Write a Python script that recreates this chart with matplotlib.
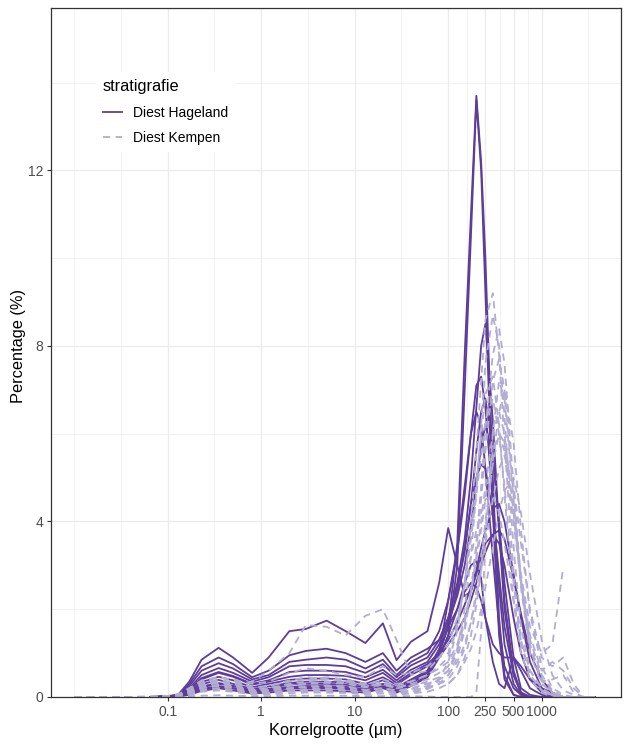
import numpy as np
import matplotlib
matplotlib.use("Agg")
import matplotlib.pyplot as plt
from matplotlib.lines import Line2D
from matplotlib.ticker import FixedLocator, NullFormatter

plt.rcParams['font.family'] = ['Liberation Sans', 'DejaVu Sans']
nan = np.nan

# grain size classes (um)
korrel = [0.01, 0.02, 0.04, 0.065, 0.1, 0.13, 0.17, 0.23, 0.35, 0.5, 0.8, 1.2, 2.0, 3.0, 5.0,
          8.0, 13, 20, 28, 40, 60, 80, 100, 125, 150, 175, 200, 225, 250, 300, 350, 400, 500,
          600, 750, 1000, 1300, 1700, 2200, 2800, 3700]

# Diest Hageland samples (%)
h01 = [nan, nan, nan, 0, 0.02, 0.06, 0.35, 0.85, 1.12, 0.9, 0.55, 0.9, 1.5, 1.55, 1.74, 1.5, 1.23, 1.68, 0.84, 1.26, 1.5, 2.6,
       3.85, 3.0, 2.3, 2.4, 2.8, 3.2, 3.5, 3.7, 3.5, 3.0, 1.8, 1.0, 0.4, 0.1, 0, 0, 0, 0, 0]
h02 = [nan, nan, nan, 0, 0.01, 0.03, 0.1, 0.22, 0.3, 0.25, 0.15, 0.18, 0.3, 0.3, 0.3, 0.28, 0.22, 0.3, 0.2, 0.3, 0.55, 1.0,
       1.6, 3.5, 7.8, 11.0, 13.7, 12.2, 10.0, 5.0, 1.8, 0.5, 0.05, 0, 0, 0, 0, 0, 0, 0, 0]
h03 = [nan, nan, nan, 0, 0.01, 0.02, 0.07, 0.17, 0.23, 0.2, 0.12, 0.14, 0.23, 0.22, 0.22, 0.2, 0.15, 0.22, 0.15, 0.25, 0.45, 0.9,
       1.4, 3.0, 7.0, 10.5, 13.6, 12.0, 9.2, 4.2, 1.4, 0.4, 0.05, 0, 0, 0, 0, 0, 0, 0, 0]
h04 = [nan, nan, nan, 0, 0.01, 0.04, 0.3, 0.7, 0.9, 0.75, 0.45, 0.6, 0.95, 1.05, 1.1, 1.0, 0.8, 1.0, 0.6, 0.9, 1.1, 1.3,
       1.8, 2.6, 3.6, 5.0, 6.6, 8.0, 8.5, 6.3, 3.8, 2.0, 0.5, 0.1, 0, 0, 0, 0, 0, 0, 0]
h05 = [nan, nan, nan, 0, 0.01, 0.04, 0.25, 0.6, 0.77, 0.65, 0.4, 0.5, 0.8, 0.85, 0.9, 0.85, 0.65, 0.85, 0.5, 0.8, 1.0, 1.5,
       2.2, 3.3, 4.6, 6.0, 7.1, 7.3, 6.6, 4.4, 2.5, 1.2, 0.3, 0.05, 0, 0, 0, 0, 0, 0, 0]
h06 = [nan, nan, nan, 0, 0.01, 0.03, 0.2, 0.5, 0.66, 0.55, 0.35, 0.45, 0.7, 0.73, 0.73, 0.7, 0.55, 0.75, 0.45, 0.72, 0.9, 1.3,
       1.8, 2.5, 3.3, 4.4, 5.6, 6.5, 6.8, 5.6, 3.8, 2.2, 0.6, 0.1, 0, 0, 0, 0, 0, 0, 0]
h07 = [nan, nan, nan, 0, 0.01, 0.03, 0.17, 0.43, 0.57, 0.48, 0.3, 0.38, 0.57, 0.6, 0.6, 0.57, 0.45, 0.62, 0.38, 0.62, 0.8, 1.2,
       1.7, 2.3, 3.0, 3.9, 4.9, 5.7, 6.2, 5.5, 4.0, 2.6, 0.9, 0.2, 0.05, 0, 0, 0, 0, 0, 0]
h08 = [nan, nan, nan, 0, 0.01, 0.03, 0.16, 0.4, 0.55, 0.46, 0.28, 0.35, 0.46, 0.5, 0.5, 0.48, 0.38, 0.55, 0.32, 0.55, 0.75, 1.0,
       1.3, 1.7, 2.1, 2.5, 2.9, 3.4, 3.8, 4.3, 4.4, 4.0, 2.8, 1.8, 0.8, 0.2, 0.05, 0, 0, 0, 0]
h09 = [nan, nan, nan, 0, 0.01, 0.02, 0.13, 0.34, 0.46, 0.38, 0.22, 0.3, 0.39, 0.42, 0.42, 0.4, 0.3, 0.45, 0.28, 0.5, 0.7, 0.9,
       1.2, 1.5, 1.8, 2.2, 2.6, 3.0, 3.3, 3.7, 3.8, 3.6, 2.7, 1.9, 1.0, 0.4, 0.1, 0, 0, 0, 0]
h10 = [nan, nan, nan, 0, 0.01, 0.02, 0.11, 0.29, 0.39, 0.3, 0.18, 0.24, 0.32, 0.35, 0.35, 0.33, 0.25, 0.38, 0.22, 0.4, 0.6, 0.9,
       1.4, 2.0, 2.6, 3.0, 3.1, 2.7, 1.8, 0.8, 0.3, 0.2, 0.9, 0.6, 0.2, 0.05, 0, 0, 0, 0, 0]
h11 = [nan, nan, nan, 0, 0.01, 0.02, 0.09, 0.24, 0.32, 0.25, 0.14, 0.18, 0.23, 0.25, 0.25, 0.23, 0.18, 0.3, 0.18, 0.35, 0.6, 1.0,
       1.6, 2.4, 3.4, 4.4, 5.0, 5.3, 5.2, 4.2, 2.8, 1.6, 0.5, 0.1, 0, 0, 0, 0, 0, 0, 0]
h12 = [nan, nan, nan, 0, 0, 0.02, 0.07, 0.18, 0.25, 0.2, 0.1, 0.14, 0.2, 0.2, 0.2, 0.18, 0.14, 0.25, 0.14, 0.3, 0.6, 1.1,
       1.6, 2.0, 2.4, 2.6, 2.5, 2.2, 1.8, 1.2, 1.0, 0.9, 0.9, 0.7, 0.4, 0.2, 0.1, 0, 0, 0, 0]
h13 = [nan, nan, nan, 0, 0, 0.01, 0.05, 0.14, 0.2, 0.15, 0.08, 0.1, 0.15, 0.15, 0.15, 0.13, 0.1, 0.2, 0.1, 0.25, 0.5, 1.0,
       2.2, 3.4, 4.8, 6.0, 6.5, 6.2, 5.2, 3.2, 1.6, 0.7, 0.2, 0.05, 0, 0, 0, 0, 0, 0, 0]

# Diest Kempen samples (%)
k01 = [0, 0, 0, 0, 0.01, 0.03, 0.1, 0.2, 0.25, 0.2, 0.1, 0.1, 0.15, 0.18, 0.2, 0.18, 0.12, 0.15, 0.1, 0.12, 0.2, 0.4,
       0.8, 1.5, 2.6, 4.0, 5.6, 7.2, 8.6, 9.2, 7.8, 5.8, 2.8, 1.3, 0.5, 0.15, 0.05, 0, 0, 0, 0]
k02 = [0, 0, 0, 0, 0.01, 0.04, 0.12, 0.25, 0.32, 0.26, 0.14, 0.15, 0.2, 0.24, 0.26, 0.24, 0.16, 0.2, 0.14, 0.18, 0.25, 0.4,
       0.6, 1.1, 2.0, 3.2, 4.7, 6.2, 7.6, 8.7, 8.0, 6.4, 3.4, 1.6, 0.6, 0.2, 0.05, 0, 0, 0, 0]
k03 = [0, 0, 0, 0, 0.01, 0.02, 0.07, 0.16, 0.2, 0.16, 0.08, 0.08, 0.12, 0.14, 0.15, 0.14, 0.1, 0.12, 0.08, 0.1, 0.18, 0.3,
       0.5, 0.9, 1.5, 2.4, 3.5, 4.8, 6.1, 7.8, 8.4, 7.6, 4.8, 2.6, 1.1, 0.35, 0.4, 0.5, 0.1, 0, 0]
k04 = [0, 0, 0, 0.01, 0.02, 0.05, 0.15, 0.3, 0.4, 0.33, 0.18, 0.2, 0.3, 0.35, 0.4, 0.38, 0.25, 0.3, 0.2, 0.25, 0.35, 0.45,
       0.6, 1.0, 1.6, 2.4, 3.4, 4.5, 5.6, 7.2, 7.7, 7.0, 4.6, 2.7, 1.2, 0.4, 0.1, 0, 0, 0, 0]
k05 = [0, 0, 0, 0.01, 0.02, 0.06, 0.18, 0.35, 0.45, 0.38, 0.22, 0.25, 0.38, 0.45, 0.42, 0.35, 0.28, 0.4, 0.3, 0.35, 0.5, 0.7,
       0.9, 1.6, 2.6, 3.7, 4.9, 6.0, 6.9, 7.3, 6.2, 4.6, 2.2, 1.0, 0.4, 0.1, 0, 0, 0, 0, 0]
k06 = [0, 0, 0, 0, 0.01, 0.02, 0.05, 0.12, 0.15, 0.12, 0.06, 0.06, 0.08, 0.1, 0.1, 0.09, 0.06, 0.08, 0.05, 0.08, 0.12, 0.2,
       0.3, 0.5, 0.9, 1.4, 2.1, 2.9, 3.8, 5.4, 6.5, 7.0, 5.8, 3.8, 1.9, 0.7, 0.2, 0.05, 0, 0, 0]
k07 = [0, 0, 0, 0, 0.02, 0.04, 0.13, 0.26, 0.33, 0.27, 0.16, 0.18, 0.28, 0.3, 0.32, 0.3, 0.22, 0.28, 0.2, 0.3, 0.4, 0.55,
       0.7, 1.1, 1.7, 2.4, 3.2, 4.0, 4.8, 6.0, 6.5, 6.0, 4.2, 2.6, 1.3, 0.5, 0.15, 0, 0, 0, 0]
k08 = [0, 0, 0, 0, 0.02, 0.05, 0.15, 0.3, 0.38, 0.3, 0.2, 0.25, 0.35, 0.4, 0.45, 0.4, 0.3, 0.35, 0.25, 0.35, 0.5, 0.65,
       0.8, 1.2, 1.8, 2.4, 3.1, 3.8, 4.5, 5.6, 6.0, 5.6, 4.0, 2.6, 1.4, 0.6, 0.8, 0.6, 0.2, 0, 0]
k09 = [0, 0, 0, 0, 0.01, 0.03, 0.1, 0.2, 0.26, 0.22, 0.12, 0.14, 0.2, 0.22, 0.24, 0.22, 0.16, 0.2, 0.15, 0.2, 0.3, 0.4,
       0.5, 0.8, 1.2, 1.7, 2.3, 2.9, 3.5, 4.5, 5.2, 5.5, 4.8, 3.5, 2.0, 0.9, 0.7, 0.9, 0.3, 0, 0]
k10 = [0, 0, 0, 0.01, 0.02, 0.06, 0.2, 0.35, 0.35, 0.3, 0.35, 0.6, 1.0, 1.64, 1.6, 1.4, 1.85, 2.0, 1.3, 0.5, 0.6, 0.9,
       1.2, 1.8, 2.5, 3.2, 3.8, 4.2, 4.5, 4.6, 4.2, 3.5, 2.2, 1.3, 0.6, 0.2, 0, 0, 0, 0, 0]
k11 = [0, 0, 0, 0, 0.01, 0.02, 0.08, 0.15, 0.2, 0.16, 0.1, 0.1, 0.14, 0.16, 0.18, 0.15, 0.1, 0.14, 0.1, 0.15, 0.22, 0.3,
       0.4, 0.7, 1.1, 1.7, 2.4, 3.2, 4.0, 5.3, 6.0, 5.8, 4.2, 2.8, 1.6, 1.0, 1.2, 2.95, nan, nan, nan]
k12 = [0, 0, 0, 0, 0, 0.01, 0.02, 0.03, 0.04, 0.03, 0.02, 0.02, 0.03, 0.03, 0.03, 0.03, 0.02, 0.02, 0.02, 0.02, 0.01, 0,
       0, 0, 0, 0, 0.1, 1.5, 3.5, 6.0, 7.2, 6.8, 4.5, 2.5, 1.0, 0.3, 0.1, 0, 0, 0, 0]
k13 = [0, 0, 0, 0, 0.01, 0.04, 0.12, 0.22, 0.28, 0.24, 0.14, 0.16, 0.25, 0.3, 0.35, 0.33, 0.24, 0.3, 0.22, 0.28, 0.3, 0.35,
       0.3, 0.5, 0.8, 1.1, 1.5, 2.0, 2.5, 3.4, 4.2, 4.7, 5.0, 4.2, 2.8, 1.3, 0.5, 0.15, 0.05, 0, 0]
k14 = [0, 0, 0, 0, 0.02, 0.06, 0.2, 0.38, 0.45, 0.4, 0.3, 0.35, 0.55, 0.65, 0.6, 0.5, 0.45, 0.7, 0.5, 0.55, 0.7, 0.9,
       1.0, 1.7, 2.6, 3.6, 4.6, 5.5, 6.3, 6.8, 6.0, 4.8, 2.6, 1.2, 0.5, 0.15, 0.05, 0, 0, 0, 0]

hageland = [h01, h02, h03, h04, h05, h06, h07, h08, h09, h10, h11, h12, h13]
kempen = [k01, k02, k03, k04, k05, k06, k07, k08, k09, k10, k11, k12, k13, k14]

x_breaks = [0.1, 1, 10, 100, 250, 500, 1000]
x_labels = ["0.1", "1", "10", "100", "250", "500", "1000"]
x_minor = [0.01, 0.0316, 0.316, 3.16, 31.6, 158, 354, 707, 3162]
y_breaks = [0, 4, 8, 12]
y_minor = [2, 6, 10, 14]

col_h = "#5E3C99"
col_k = "#B2ABD2"

fig = plt.figure(figsize=(6.3, 7.47), dpi=100)
ax = fig.add_axes([51/630, 50/747, 570/630, 689/747])

for s in hageland:
    ax.plot(korrel, s, color=col_h, lw=1.3, solid_joinstyle="round")
for s in kempen:
    ax.plot(korrel, s, color=col_k, lw=1.3, dashes=(4, 3))

ax.set_xscale("log")
ax.set_xlim(0.00564, 7050)
ax.set_ylim(0, 15.7)
ax.set_xticks(x_breaks)
ax.set_xticklabels(x_labels)
ax.xaxis.set_minor_locator(FixedLocator(x_minor))
ax.xaxis.set_minor_formatter(NullFormatter())
ax.set_yticks(y_breaks)
ax.set_yticks(y_minor, minor=True)

ax.grid(which="major", color="#EBEBEB", lw=0.9)
ax.grid(which="minor", color="#EBEBEB", lw=0.45)
ax.set_axisbelow(True)
for sp in ax.spines.values():
    sp.set_color("#333333")
    sp.set_linewidth(0.9)
ax.tick_params(which="major", length=3, width=0.8, color="#333333",
               labelcolor="#4D4D4D", labelsize=10, pad=2.4)
ax.tick_params(which="minor", length=0)

ax.set_xlabel("Korrelgrootte (µm)", fontsize=11.8, labelpad=3)
ax.set_ylabel("Percentage (%)", fontsize=11.8)
ax.yaxis.set_label_coords(-0.043, 0.51)

handles = [Line2D([], [], color=col_h, lw=1.3),
           Line2D([], [], color=col_k, lw=1.3, dashes=(4, 3))]
leg = ax.legend(handles, ["Diest Hageland", "Diest Kempen"], title="stratigrafie",
                loc="upper left", bbox_to_anchor=(0.0667, 0.9174), frameon=True,
                facecolor="white", edgecolor="none", framealpha=1, fancybox=False,
                fontsize=10, title_fontsize=11.8, handlelength=1.4, handletextpad=0.8,
                labelspacing=0.75, borderpad=0.5, alignment="left")
leg._legend_box.sep = 8.9

fig.savefig("out.png", dpi=100)
